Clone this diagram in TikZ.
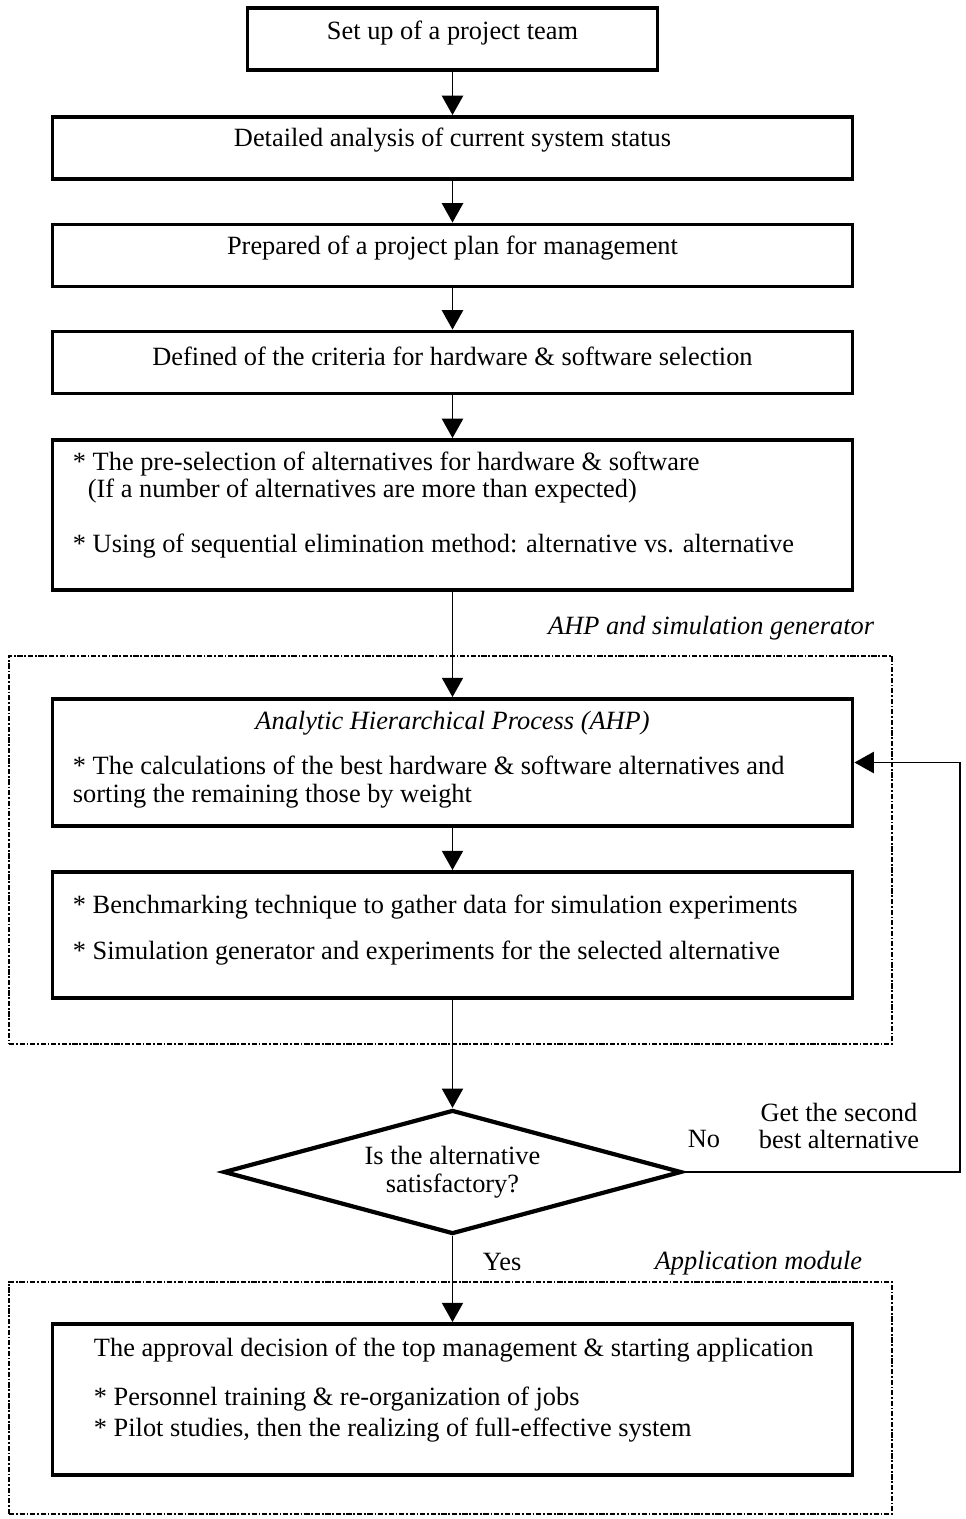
\documentclass[tikz,border=0pt]{standalone}
\usepackage{fontspec}
\setmainfont{Liberation Serif}
\usetikzlibrary{arrows.meta,shapes.geometric}

\begin{document}
\begin{tikzpicture}[->,>={Triangle[width=12pt,length=11pt]},line width=1.1pt,
    font=\fontsize{15}{15.6}\selectfont]
    \tikzstyle{process}=[draw,line width=2.2pt,minimum width=16cm,minimum height=1.24cm,inner sep=0pt]
    \tikzstyle{decision}=[draw,diamond,aspect=3.7,line width=2.4pt,minimum width=9.16cm,minimum height=2.48cm,inner sep=0pt,align=center]
    \tikzstyle{frame}=[draw,line width=0.9pt,dash pattern=on 3pt off 1pt on 1pt off 1pt,minimum width=17.66cm,inner sep=0pt]
    \tikzstyle{body}=[inner sep=0pt,align=left,anchor=west]
    \tikzstyle{caption}=[inner sep=0pt,font=\fontsize{15}{15.6}\selectfont\itshape]
    \useasboundingbox (0,0) rectangle (19.3,-30.38);
    % dashed modules
    \node[frame,minimum height=7.76cm] (F_1) at (9.01,-17.0) {};
    \node[frame,minimum height=4.64cm] (F_2) at (9.01,-27.96) {};
    \node[caption,anchor=east] (L_1) at (17.5,-12.56) {AHP and simulation generator};
    \node[caption,anchor=east] (L_2) at (17.26,-25.26) {Application module};
    % steps
    \node[process,minimum width=8.2cm] (B_1) at (9.05,-0.78) {};
    \node[process] (B_2) at (9.05,-2.96) {};
    \node[process] (B_3) at (9.05,-5.11) {};
    \node[process] (B_4) at (9.05,-7.25) {};
    \node[process,minimum height=3.0cm] (B_5) at (9.05,-10.30) {};
    \node[process,minimum height=2.54cm] (B_6) at (9.05,-15.25) {};
    \node[process,minimum height=2.52cm] (B_7) at (9.05,-18.70) {};
    \node[decision] (D) at (9.05,-23.44) {Is the alternative\\satisfactory?};
    \node[process,minimum height=3.02cm] (B_8) at (9.05,-27.99) {};
    % texts
    \node (T_1) at (9.05,-0.66) {Set up of a project team};
    \node (T_2) at (9.05,-2.80) {Detailed analysis of current system status};
    \node (T_3) at (9.05,-4.96) {Prepared of a project plan for management};
    \node (T_4) at (9.05,-7.12) {Defined of the criteria for hardware \& software selection};
    \node[body] (T_5) at (1.44,-10.10) {* The pre-selection of alternatives for hardware \& software\\
      \hspace*{8.5pt}(If a number of alternatives are more than expected)\\[15.6pt]
      * Using of sequential elimination method: alternative vs. alternative};
    \node[caption] (T_6) at (9.05,-14.46) {Analytic Hierarchical Process (AHP)};
    \node[body] (T_7) at (1.44,-15.64) {* The calculations of the best hardware \& software alternatives and\\
      sorting the remaining those by weight};
    \node[body] (T_8) at (1.44,-18.60) {* Benchmarking technique to gather data for simulation experiments\\[10.5pt]
      * Simulation generator and experiments for the selected alternative};
    \node[body] (T_9) at (1.86,-27.80) {The approval decision of the top management \& starting application\\[12.7pt]
      * Personnel training \& re-organization of jobs\\[2pt]
      * Pilot studies, then the realizing of full-effective system};
    \node[inner sep=0pt,anchor=west] (L_3) at (9.64,-25.24) {Yes};
    \node[inner sep=0pt] (L_4) at (14.08,-22.78) {No};
    \node[inner sep=0pt,align=center] (L_5) at (16.78,-22.52) {Get the second\\best alternative};
    \coordinate (R) at (19.2,0);
    \draw (B_1) -- (B_2);
    \draw (B_2) -- (B_3);
    \draw (B_3) -- (B_4);
    \draw (B_4) -- (B_5);
    \draw (B_5) -- (B_6);
    \draw (B_6) -- (B_7);
    \draw (B_7) -- (D);
    \draw (D) -- (B_8);
    \draw (D.east) -| (R |- B_6) -- (B_6.east);
\end{tikzpicture}
\end{document}
